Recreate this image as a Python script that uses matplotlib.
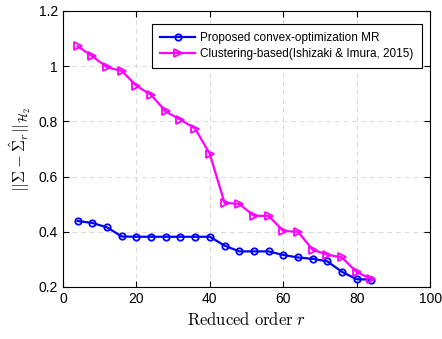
import matplotlib
matplotlib.use('Agg')
import matplotlib.pyplot as plt

# date
ordin = [4, 8, 12, 16, 20, 24, 28, 32, 36, 40, 44, 48, 52, 56, 60, 64, 68, 72, 76, 80, 84]
eroare_convex = [0.439, 0.432, 0.416, 0.383, 0.382, 0.382, 0.382, 0.382, 0.382, 0.382,
                 0.350, 0.329, 0.329, 0.329, 0.316, 0.307, 0.302, 0.293, 0.255, 0.228, 0.227]
eroare_cluster = [1.072, 1.036, 0.996, 0.983, 0.929, 0.896, 0.836, 0.806, 0.774, 0.682,
                  0.505, 0.501, 0.458, 0.458, 0.403, 0.400, 0.335, 0.317, 0.307, 0.254, 0.229]

plt.rcParams['font.family'] = ['Liberation Sans', 'DejaVu Sans']
plt.rcParams['mathtext.fontset'] = 'cm'

fig = plt.figure(figsize=(4.42, 3.39), dpi=100)
ax = fig.add_axes([0.1425, 0.1534, 0.973 - 0.1425, 0.9676 - 0.1534])

ax.plot(ordin, eroare_convex, color='#0000ff', linewidth=1.6, marker='o',
        markersize=4.6, markerfacecolor='none', markeredgewidth=1.3,
        label='Proposed convex-optimization MR')
ax.plot(ordin, eroare_cluster, color='#ff00ff', linewidth=1.6, marker='>',
        markersize=5.8, markerfacecolor='none', markeredgewidth=1.3,
        label='Clustering-based(Ishizaki & Imura, 2015)')

ax.set_xlim(0, 100)
ax.set_ylim(0.2, 1.2)
ax.set_xticks([0, 20, 40, 60, 80, 100])
ax.set_yticks([0.2, 0.4, 0.6, 0.8, 1.0, 1.2])
ax.set_yticklabels(['0.2', '0.4', '0.6', '0.8', '1', '1.2'])
ax.tick_params(direction='in', top=True, right=True, labelsize=10, length=4)
ax.grid(True, linestyle=(0, (5, 4)), color='#d9d9d9', linewidth=0.7)
for s in ax.spines.values():
    s.set_linewidth(0.8)

ax.set_xlabel(r'$\mathrm{Reduced\ order}\ r$', fontsize=12)
ax.set_ylabel(r'$||\Sigma-\hat{\Sigma}_r||_{\mathcal{H}_2}$', fontsize=12)

leg = ax.legend(loc='upper right', fontsize=8.5, handlelength=2.9, fancybox=False,
                edgecolor='black', framealpha=1, borderpad=0.7, labelspacing=0.35,
                handletextpad=0.45, bbox_to_anchor=(0.993, 0.975))
leg.get_frame().set_linewidth(0.8)

fig.savefig('out.png', dpi=100)
